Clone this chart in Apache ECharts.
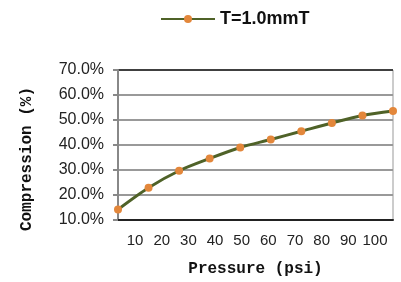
<!DOCTYPE html>
<html><head><meta charset="utf-8">
<script src="https://cdn.jsdelivr.net/npm/echarts@6/dist/echarts.min.js"></script>
<style>html,body{margin:0;padding:0;background:#fff}#c{width:401px;height:282px}</style>
</head><body><div id="c"></div>
<script>
const seriesName = 'T=1.0mmT';
const categories = ['1','2','3','4','5','6','7','8','9','10'];
const compression = [14.2, 22.9, 29.7, 34.6, 39.0, 42.2, 45.5, 48.8, 51.8, 53.6];
const xTickLabels = [10, 20, 30, 40, 50, 60, 70, 80, 90, 100];
const yMin = 10, yMax = 70, yStep = 10;

const chart = echarts.init(document.getElementById('c'), null, {renderer: 'canvas'});
chart.setOption({
  animation: false,
  legend: {
    top: 5, left: 155, itemGap: 6,
    itemWidth: 54, itemHeight: 10,
    textStyle: {fontFamily: 'Arial, Liberation Sans', fontWeight: 'bold', fontSize: 18, color: '#111'},
    data: [seriesName]
  },
  grid: {left: 118, right: 8, top: 70, bottom: 55, show: true, borderColor: '#999', borderWidth: 1},
  xAxis: [{
    type: 'category', data: categories, boundaryGap: false,
    axisLine: {lineStyle: {color: '#222', width: 2}},
    axisTick: {show: false}, axisLabel: {show: false}, splitLine: {show: false}
  }, {
    type: 'value', position: 'bottom', min: 3.6, max: 106.75,
    axisLine: {show: false}, axisTick: {show: false}, splitLine: {show: false},
    axisLabel: {customValues: xTickLabels, fontFamily: 'Arial, Liberation Sans', fontSize: 15, color: '#222', margin: 13},
    name: 'Pressure (psi)', nameLocation: 'middle', nameGap: 41,
    nameTextStyle: {fontFamily: 'Liberation Mono', fontWeight: 'bold', fontSize: 16, color: '#111'}
  }],
  yAxis: {
    type: 'value', min: yMin, max: yMax, interval: yStep,
    axisLine: {show: true, lineStyle: {color: '#888', width: 2}},
    axisTick: {show: true, inside: false, length: 5, lineStyle: {color: '#888', width: 2}},
    axisLabel: {formatter: v => v.toFixed(1) + '%', fontFamily: 'Arial, Liberation Sans', fontSize: 16, color: '#222', margin: 14},
    splitLine: {lineStyle: {color: ['#999','#999','#999','#999','#999','#999','#404040'], width: 2}},
    name: 'Compression (%)', nameLocation: 'middle', nameGap: 83, nameRotate: 90,
    nameTextStyle: {fontFamily: 'Liberation Mono', fontWeight: 'bold', fontSize: 16, color: '#111', padding: [0, 28, 0, 0]}
  },
  series: [{
    name: seriesName, type: 'line', xAxisIndex: 0, data: compression, smooth: 0.3,
    symbol: 'circle', symbolSize: 8,
    lineStyle: {color: '#4f6228', width: 3},
    itemStyle: {color: '#e3873b'}
  }]
});
</script></body></html>
